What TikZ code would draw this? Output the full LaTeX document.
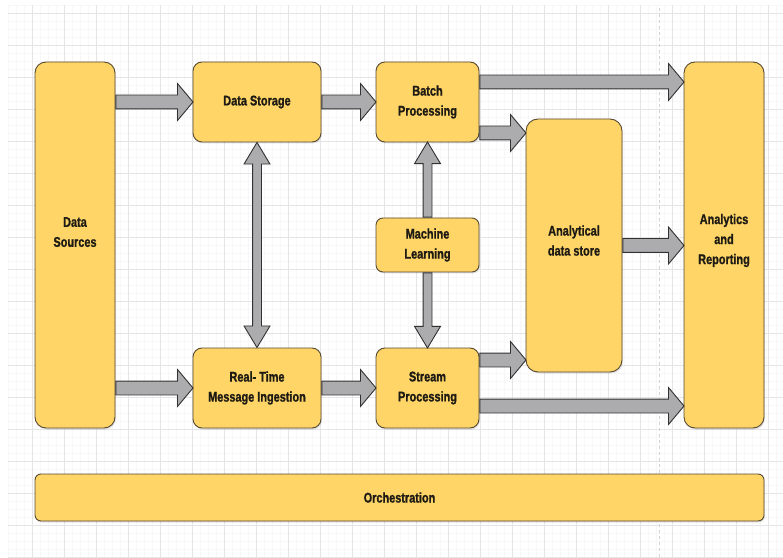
\documentclass[tikz,border=0pt]{standalone}
\usepackage{fontspec}
\setmainfont{Liberation Sans}[FakeStretch=0.78, BoldFeatures={FakeBold=1.1}]
\usepackage{tikz}
\usetikzlibrary{calc}
\usetikzlibrary{shapes.arrows}
\usetikzlibrary{shadows}

\definecolor{boxfill}{RGB}{254,213,102}
\definecolor{boxline}{RGB}{88,74,50}
\definecolor{boxtext}{RGB}{30,26,20}
\definecolor{arrowfill}{RGB}{172,172,175}
\definecolor{arrowline}{RGB}{50,50,50}

\tikzset{
  block/.style={draw=boxline, fill=boxfill, text=boxtext, line width=0.9pt, rounded corners=9pt, align=center,
    font=\fontsize{14}{20}\selectfont\bfseries,
    drop shadow={opacity=0.22, shadow xshift=1pt, shadow yshift=-1.5pt}},
  flow/.style={single arrow, draw=arrowline, fill=arrowfill, line width=0.9pt,
    inner xsep=0pt, inner ysep=6.5pt, minimum width=0pt,
    single arrow head extend=11.5pt, single arrow tip angle=100, single arrow head indent=0pt},
  flowv/.style={single arrow, draw=arrowline, fill=arrowfill, line width=0.9pt,
    inner xsep=0pt, inner ysep=4pt, minimum width=0pt,
    single arrow head extend=8.5pt, single arrow tip angle=62, single arrow head indent=0pt},
  flowboth/.style={double arrow, draw=arrowline, fill=arrowfill, line width=0.9pt,
    inner xsep=0pt, inner ysep=4pt, minimum width=0pt,
    double arrow head extend=8.5pt, double arrow tip angle=62, double arrow head indent=0pt},
}

% block arrow from #2 to #3
\newcommand{\linkarrow}[3][flow]{%
  \path let \p1=(#2), \p2=(#3), \n1={atan2(\y2-\y1,\x2-\x1)}, \n2={veclen(\x2-\x1,\y2-\y1)} in
    node[#1, minimum height=\n2, rotate=\n1, anchor=tail] at (\p1) {};}
\newcommand{\bothways}[3][flowboth]{%
  \path let \p1=(#2), \p2=(#3), \n1={atan2(\y2-\y1,\x2-\x1)}, \n2={veclen(\x2-\x1,\y2-\y1)} in
    node[#1, minimum height=\n2, rotate=\n1] at ($(\p1)!0.5!(\p2)$) {};}

\begin{document}
\begin{tikzpicture}[x=1pt, y=1pt]

    \useasboundingbox (0,0) rectangle (783,557);
    \draw[gray!6, step=8] (8,0) grid (783,552);
    \draw[gray!20, step=32] (8,0) grid (783,552);
    \draw[gray!35, dashed] (659,0) -- (659,552);

    \node [block, rounded corners=11pt, minimum width=80, minimum height=366, text depth=26pt] (data_src) at (75,312) {Data\\Sources};
    \node [block, minimum width=128, minimum height=80] (data_store) at (257,455) {Data Storage};
    \node [block, minimum width=128, minimum height=80] (rt_ingest) at (257,169) {Real- Time\\Message Ingestion};
    \node [block, minimum width=103, minimum height=80] (batch_proc) at (427.5,455) {Batch\\Processing};
    \node [block, minimum width=103, minimum height=80] (stream_proc) at (427.5,169) {Stream\\Processing};
    \node [block, rounded corners=7pt, minimum width=103, minimum height=54] (mach_learn) at (427.5,312) {Machine\\Learning};
    \node [block, rounded corners=12pt, minimum width=96, minimum height=253, text depth=10pt] (ana_store) at (574,311.5) {Analytical\\data store};
    \node [block, rounded corners=11pt, minimum width=80, minimum height=366, text depth=12pt] (ana_report) at (724,312) {Analytics\\and\\Reporting};
    \node [block, rounded corners=6pt, minimum width=729, minimum height=47] (orch) at (399.5,59.5) {Orchestration};

    \coordinate (batch_hi) at ($(batch_proc.east)+(0,20)$);
    \coordinate (batch_lo) at ($(batch_proc.east)+(0,-31)$);
    \coordinate (stream_hi) at ($(stream_proc.east)+(0,28)$);
    \coordinate (stream_lo) at ($(stream_proc.east)+(0,-18)$);

    \linkarrow{data_src.east |- data_store.west}{data_store.west}
    \linkarrow{data_src.east |- rt_ingest.west}{rt_ingest.west}
    \linkarrow{data_store.east}{batch_proc.west}
    \linkarrow{rt_ingest.east}{stream_proc.west}
    \linkarrow{batch_hi}{ana_report.west |- batch_hi}
    \linkarrow{batch_lo}{ana_store.west |- batch_lo}
    \linkarrow{stream_hi}{ana_store.west |- stream_hi}
    \linkarrow{stream_lo}{ana_report.west |- stream_lo}
    \linkarrow{ana_store.east}{ana_report.west |- ana_store.east}

    \bothways{data_store.south}{rt_ingest.north}
    \linkarrow[flowv]{mach_learn.north}{batch_proc.south}
    \linkarrow[flowv]{mach_learn.south}{stream_proc.north}

\end{tikzpicture}
\end{document}
